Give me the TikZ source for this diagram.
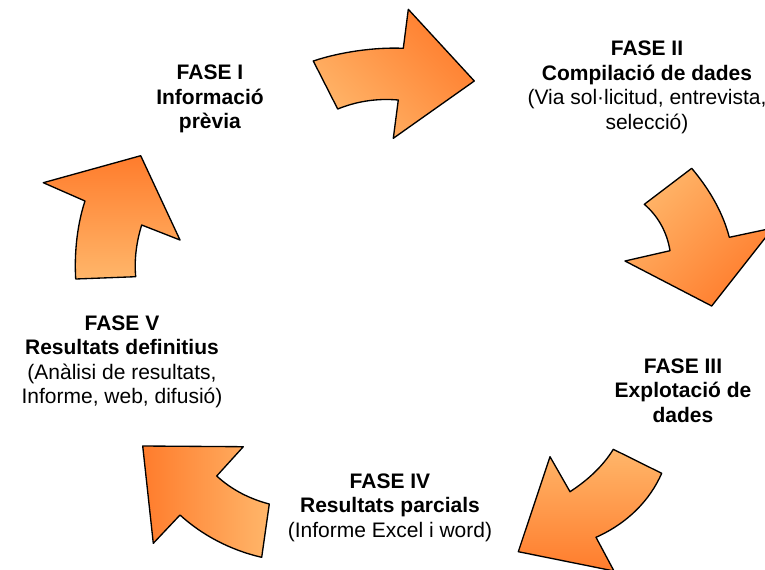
\documentclass[tikz,border=0pt]{standalone}
\usepackage{fontspec}
\setmainfont{Liberation Sans}
\definecolor{phaselight}{RGB}{255,182,106}
\definecolor{phasedark}{RGB}{255,124,44}
\tikzset{every picture/.style={line width=0.75pt},
  phasearrow/.style={draw=black, line width=1pt, line join=round, top color=phaselight, bottom color=phasedark},
  phasetext/.style={align=center, inner sep=0.75pt, font=\fontsize{15.75}{18.4}\selectfont}}

\begin{document}
\begin{tikzpicture}[x=0.75pt,y=0.75pt,yscale=-1,xscale=1]
\useasboundingbox (0,0) rectangle (765,569);

%Shape: Curved Arrow [id:fase1to2]
\draw [phasearrow, shading angle=135] (313.3,61) .. controls (340,52) and (375,47) .. (403.3,48.3) -- (408.3,9.3) -- (474.3,81) -- (393.3,138.3) -- (398.3,100) .. controls (375,98) and (355,102) .. (337.7,109) -- cycle ;
%Shape: Curved Arrow [id:fase2to3]
\draw [phasearrow, shading angle=45] (691.7,168.3) .. controls (710,190) and (723,213) .. (729.3,237.3) -- (773,228) -- (711.7,306) -- (625,261) -- (670,250.7) .. controls (667,232) and (658,216) .. (644.3,204.3) -- cycle ;
%Shape: Curved Arrow [id:fase3to4]
\draw [phasearrow, shading angle=0] (613.3,449.3) -- (661.7,473.3) .. controls (650,500) and (628,523) .. (596,537.3) -- (614,571) -- (518.3,551.7) -- (550,456.7) -- (570,491.7) .. controls (588,480) and (603,466) .. (613.3,449.3) -- cycle ;
%Shape: Curved Arrow [id:fase4to5]
\draw [phasearrow, shading angle=-90] (142.7,446) -- (243.3,446.7) -- (216.7,476) .. controls (232,490) and (250,499) .. (269.3,504) -- (261.7,557.3) .. controls (230,550) and (202,535) .. (180,515) -- (153.3,543.3) -- cycle ;
%Shape: Curved Arrow [id:fase5to1]
\draw [phasearrow, shading angle=180] (43.3,182.7) -- (140.7,155.7) -- (180,240) -- (141.7,225) .. controls (137,240) and (134,258) .. (135.7,276.7) -- (75.7,279) .. controls (74,250) and (78,222) .. (85,201) -- cycle ;

% Text Node
\draw (210,99) node (fase1) [phasetext] {\textbf{FASE I}\\\textbf{Informació}\\\textbf{prèvia}};
% Text Node
\draw (647,87.5) node (fase2) [phasetext] {\textbf{FASE II}\\\textbf{Compilació de dades}\\(Via sol·licitud, entrevista,\\selecció)};
% Text Node
\draw (683,390.5) node (fase3) [phasetext] {\textbf{FASE III}\\\textbf{Explotació de}\\\textbf{dades}};
% Text Node
\draw (390,507.5) node (fase4) [phasetext] {\textbf{FASE IV}\\\textbf{Resultats parcials}\\(Informe Excel i word)};
% Text Node
\draw (122,362) node (fase5) [phasetext] {\textbf{FASE V}\\\textbf{Resultats definitius}\\(Anàlisi de resultats,\\Informe, web, difusió)};

\end{tikzpicture}
\end{document}
